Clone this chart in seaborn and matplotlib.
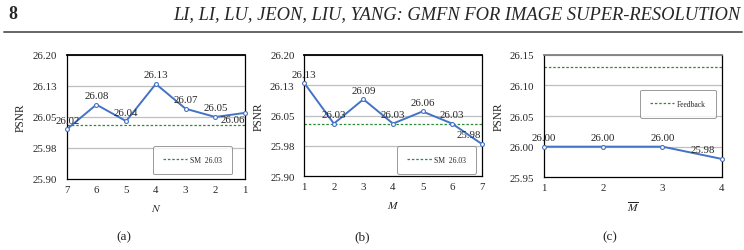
import numpy as np
import pandas as pd
import matplotlib
matplotlib.use('Agg')
import matplotlib.pyplot as plt
import seaborn as sns
from matplotlib.lines import Line2D

# --- data ---
n_values = [7, 6, 5, 4, 3, 2, 1]
psnr_n = [26.02, 26.08, 26.04, 26.13, 26.07, 26.05, 26.06]
sm_n = 26.03

m_values = [1, 2, 3, 4, 5, 6, 7]
psnr_m = [26.13, 26.03, 26.09, 26.03, 26.06, 26.03, 25.98]
sm_m = 26.03

mbar_values = [1, 2, 3, 4]
psnr_mbar = [26.00, 26.00, 26.00, 25.98]
feedback = 26.13

yticks_ab = [25.9, 25.975, 26.05, 26.125, 26.2]
yticklabels_ab = ["25.90", "25.98", "26.05", "26.13", "26.20"]
yticks_c = [25.95, 26.00, 26.05, 26.10, 26.15]
yticklabels_c = ["25.95", "26.00", "26.05", "26.10", "26.15"]

# --- style ---
sns.set_style("white")
plt.rcParams['font.family'] = ['Liberation Serif', 'DejaVu Serif']
plt.rcParams['mathtext.fontset'] = 'stix'

BLUE = '#4472C4'
GREEN = '#2E8B3A'
GRID = '#BFBFBF'
FS = 7.8

fig = plt.figure(figsize=(7.44, 2.51), dpi=100)

# header
fig.text(0.011, 0.942, "8", fontsize=13, fontweight='bold', ha='left', va='center')
fig.text(0.995, 0.942, "LI, LI, LU, JEON, LIU, YANG: GMFN FOR IMAGE SUPER-RESOLUTION",
         fontsize=13.3, style='italic', ha='right', va='center')
fig.add_artist(Line2D([0.006, 0.997], [0.8705, 0.8705], color='#666666', lw=1.4))

ax_a = fig.add_axes([0.0896, 0.2829, 0.2397, 0.494])
ax_b = fig.add_axes([0.409, 0.2936, 0.2384, 0.4845])
ax_c = fig.add_axes([0.7312, 0.2896, 0.2388, 0.4884])


def draw_panel(ax, xs, ys, ref, ref_label, yticks, yticklabels, xlim, xlabel,
               offsets, legend_loc, legend_anchor, top_color='black'):
    df = pd.DataFrame({'x': xs, 'y': ys})
    ax.axhline(ref, color=GREEN, ls=(0, (2, 1.5)), lw=0.9, zorder=2)
    for t in yticks[1:]:
        ax.axhline(t, color=GRID, lw=0.9, zorder=1)
    sns.lineplot(data=df, x='x', y='y', ax=ax, color=BLUE, lw=1.4, marker='o',
                 markersize=2.8, markerfacecolor='white', markeredgecolor=BLUE,
                 markeredgewidth=0.8, zorder=3, clip_on=False)
    for (x, y), (dx, dy) in zip(zip(xs, ys), offsets):
        ax.annotate(f"{y:.2f}", (x, y), xytext=(dx, dy), textcoords='offset points',
                    ha='center', va='center', fontsize=FS, zorder=4)
    ax.set_xlim(*xlim)
    ax.set_ylim(yticks[0], yticks[-1])
    ax.set_yticks(yticks)
    ax.set_yticklabels(yticklabels)
    ax.set_xticks(xs)
    ax.set_xticklabels([str(v) for v in xs])
    ax.tick_params(axis='y', length=0, labelsize=FS, pad=7)
    ax.tick_params(axis='x', length=0, labelsize=FS, pad=4)
    ax.set_ylabel("PSNR", fontsize=FS + 0.5, labelpad=4)
    ax.set_xlabel(xlabel, fontsize=FS + 0.5, labelpad=6)
    for s in ['left', 'bottom', 'right']:
        ax.spines[s].set_color('black')
        ax.spines[s].set_linewidth(0.9)
    ax.spines['top'].set_color(top_color)
    ax.spines['top'].set_linewidth(1.3)
    handle = Line2D([], [], color=GREEN, ls=(0, (2, 1.5)), lw=0.9)
    leg = ax.legend([handle], [ref_label], loc=legend_loc, bbox_to_anchor=legend_anchor,
                    fontsize=5.5, frameon=True, fancybox=True, handlelength=3.2,
                    handletextpad=0.3, borderpad=1.3, borderaxespad=0)
    leg.get_frame().set_edgecolor('#808080')
    leg.get_frame().set_linewidth(0.7)
    leg.set_zorder(5)


draw_panel(ax_a, n_values, psnr_n, sm_n, "SM  26.03", yticks_ab, yticklabels_ab,
           (7, 1), "$N$",
           [(1, 6.5), (0, 6.5), (0, 6.5), (0, 6.5), (0, 6.5), (0, 6.5), (-9, -4.5)],
           'lower right', (0.925, 0.04))
draw_panel(ax_b, m_values, psnr_m, sm_m, "SM  26.03", yticks_ab, yticklabels_ab,
           (1, 7), "$M$",
           [(0, 6.5), (0, 6.5), (0, 6.5), (0, 6.5), (0, 6.5), (0, 6.5), (-9.5, 6.5)],
           'lower right', (0.968, 0.02))
draw_panel(ax_c, mbar_values, psnr_mbar, feedback, "Feedback", yticks_c, yticklabels_c,
           (1, 4), r"$\overline{M}$",
           [(0, 6.5), (0, 6.5), (0, 6.5), (-13.5, 6.5)],
           'upper right', (0.966, 0.714), top_color='#7F7F7F')

# sub-captions
fig.text(124 / 744, 1 - 237 / 251, "(a)", fontsize=9.5, ha='center', va='center')
fig.text(362 / 744, 1 - 237 / 251, "(b)", fontsize=9.5, ha='center', va='center')
fig.text(610 / 744, 1 - 237 / 251, "(c)", fontsize=9.5, ha='center', va='center')

fig.savefig('out.png', dpi=100)
